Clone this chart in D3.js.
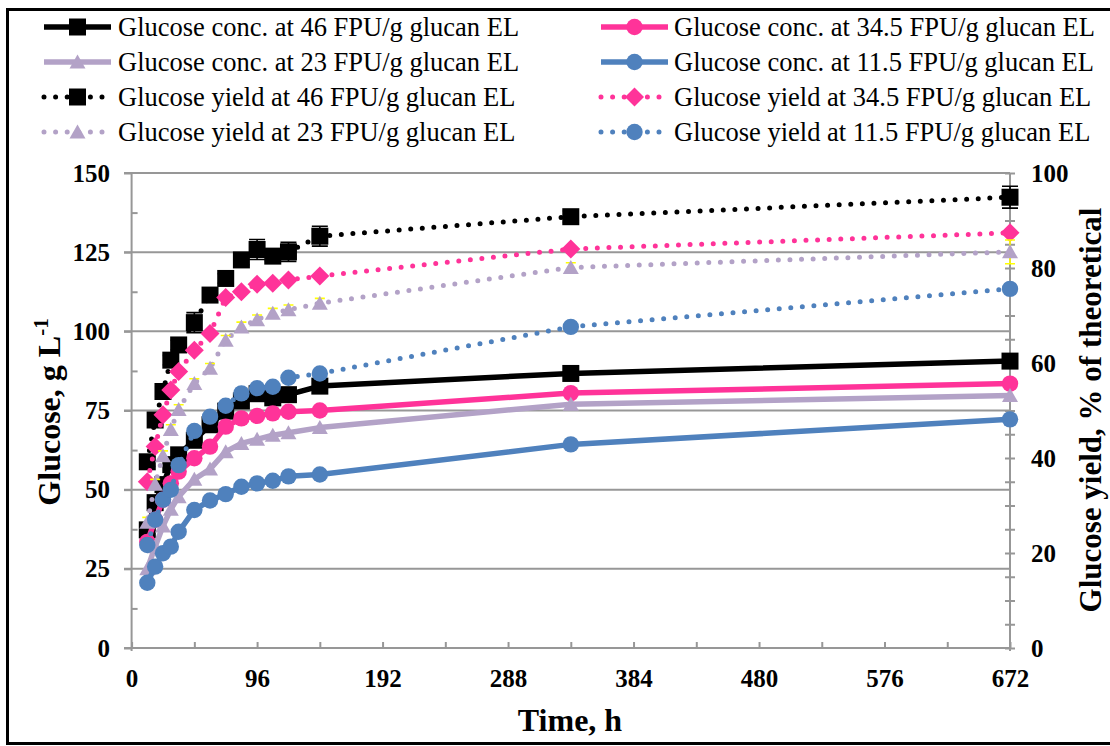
<!DOCTYPE html>
<html>
<head>
<meta charset="utf-8">
<script src="https://cdn.jsdelivr.net/npm/d3@7"></script>
<style>
  html, body { margin: 0; padding: 0; background: #fff; }
  svg { display: block; }
  text { font-family: "Liberation Serif", "Times New Roman", serif; fill: #000; }
</style>
</head>
<body>
<svg id="chart" width="1110" height="746"></svg>
<script>
// Sampling times, h
const times = [12, 18, 24, 30, 36, 48, 60, 72, 84, 96, 108, 120, 144, 336, 672];

// Glucose concentration, g/L
const conc46  = [37.3, 45.9, 51.6, 57.9, 61.0, 65.6, 70.5, 74.8, 78.0, 80.3, 79.0, 80.0, 82.7, 86.7, 90.6];
const conc345 = [33.5, 40.5, 46.8, 52.0, 55.7, 59.9, 63.6, 69.9, 72.5, 73.3, 74.1, 74.6, 75.0, 80.5, 83.5];
const conc23  = [25.0, 32.0, 38.5, 43.8, 47.8, 53.3, 56.5, 62.0, 64.6, 65.9, 67.2, 68.0, 69.6, 77.0, 79.7];
const conc115 = [20.6, 25.7, 29.9, 32.0, 36.7, 43.6, 46.6, 48.6, 50.9, 52.0, 52.8, 54.2, 54.8, 64.3, 72.2];

// Glucose yield, % of theoretical
const yield46  = [39.2, 48.0, 54.0, 60.6, 63.8, 68.5, 74.3, 77.8, 81.7, 83.9, 82.5, 83.4, 86.7, 90.8, 94.9];
const yield345 = [35.0, 42.4, 49.1, 54.3, 58.2, 62.7, 66.2, 73.8, 75.0, 76.6, 76.8, 77.5, 78.3, 84.0, 87.4];
const yield23  = [26.5, 34.5, 40.5, 46.0, 50.2, 55.7, 58.9, 64.8, 67.6, 69.1, 70.5, 71.2, 72.6, 80.1, 83.4];
const yield115 = [21.7, 27.0, 31.2, 33.3, 38.5, 45.7, 48.7, 51.0, 53.6, 54.7, 55.0, 56.9, 57.8, 67.6, 75.6];

// Standard deviations of the yield series
const yield46Err = [1.0, 1.0, 1.0, 1.0, 1.0, 2.1, 1.0, 1.0, 1.0, 2.1, 1.0, 2.0, 2.1, 1.2, 2.3];
const yield23Err = [1.0, 1.0, 1.0, 1.0, 1.0, 1.0, 1.0, 1.0, 1.0, 1.0, 1.0, 1.0, 1.0, 1.0, 2.5];

// Axis ticks
const xTicks = [0, 48, 96, 144, 192, 240, 288, 336, 384, 432, 480, 528, 576, 624, 672];
const xLabelStep = 96;
const leftTicks = [0, 25, 50, 75, 100, 125, 150];
const leftMinorTicks = [12.5, 37.5, 62.5, 87.5, 112.5, 137.5];
const rightTicks = d3.range(0, 101, 5);
const rightLabelStep = 20;

const legendLabels = [
  "Glucose conc. at 46 FPU/g glucan EL",
  "Glucose conc. at 34.5 FPU/g glucan EL",
  "Glucose conc. at 23 FPU/g glucan EL",
  "Glucose conc. at 11.5 FPU/g glucan EL",
  "Glucose yield at 46 FPU/g glucan EL",
  "Glucose yield at 34.5 FPU/g glucan EL",
  "Glucose yield at 23 FPU/g glucan EL",
  "Glucose yield at 11.5 FPU/g glucan EL"
];

const BLACK = "#000000", PINK = "#FF3399", LAV = "#B3A2C7", BLUE = "#4F81BD", GRID = "#979797";

const series = [
  { values: conc46,   axis: "L", color: BLACK, shape: "square",   dotted: false },
  { values: conc345,  axis: "L", color: PINK,  shape: "circle",   dotted: false },
  { values: conc23,   axis: "L", color: LAV,   shape: "triangle", dotted: false },
  { values: conc115,  axis: "L", color: BLUE,  shape: "circle",   dotted: false },
  { values: yield46,  axis: "R", color: BLACK, shape: "square",   dotted: true, err: yield46Err, errColor: BLACK, cap: 16 },
  { values: yield345, axis: "R", color: PINK,  shape: "diamond",  dotted: true },
  { values: yield23,  axis: "R", color: LAV,   shape: "triangle", dotted: true, err: yield23Err, errColor: "#FFFF00", cap: 10 },
  { values: yield115, axis: "R", color: BLUE,  shape: "circle",   dotted: true }
];
series.forEach((s, i) => s.label = legendLabels[i]);

const svg = d3.select("#chart");
svg.append("rect").attr("width", 1110).attr("height", 746).attr("fill", "#fff");

const x  = d3.scaleLinear().domain([0, 672]).range([131.6, 1010]);
const yL = d3.scaleLinear().domain([0, 150]).range([648, 173]);
const yR = d3.scaleLinear().domain([0, 100]).range([648, 173]);

// Horizontal gridlines
svg.append("g").selectAll("line").data(leftTicks.filter(v => v > 0)).join("line")
  .attr("x1", 124).attr("x2", 1010)
  .attr("y1", d => yL(d)).attr("y2", d => yL(d))
  .attr("stroke", GRID).attr("stroke-width", 2);

function styleAxis(g) {
  g.selectAll("path.domain").attr("stroke", GRID).attr("stroke-width", 2);
  g.selectAll(".tick line").attr("stroke", GRID).attr("stroke-width", 2);
  g.selectAll("text").attr("font-family", "Liberation Serif, Times New Roman, serif")
    .attr("font-weight", "bold").attr("font-size", 25).attr("fill", "#000");
}

// Bottom axis
const gx = svg.append("g").attr("transform", "translate(0,648)")
  .call(d3.axisBottom(x).tickValues(xTicks).tickSize(-6).tickSizeOuter(0).tickPadding(21)
    .tickFormat(d => d % xLabelStep === 0 ? d : ""));
styleAxis(gx);
gx.select("path.domain").attr("d", "M124,0H1010");

// Left axis
const gyl = svg.append("g").attr("transform", "translate(131.6,0)")
  .call(d3.axisLeft(yL).tickValues(leftTicks).tickSize(7.6).tickSizeOuter(0).tickPadding(14));
styleAxis(gyl);
gyl.select("path.domain").attr("d", "M0,173V651");
svg.append("g").attr("transform", "translate(131.6,0)")
  .call(d3.axisLeft(yL).tickValues(leftMinorTicks).tickSize(-6).tickFormat(""))
  .call(g => { g.select("path.domain").remove(); styleAxis(g); });

// Right axis with crossing ticks
const gyr = svg.append("g").attr("transform", "translate(1010,0)")
  .call(d3.axisRight(yR).tickValues(rightTicks).tickSize(5).tickSizeOuter(0).tickPadding(16)
    .tickFormat(d => d % rightLabelStep === 0 ? d : ""));
styleAxis(gyr);
gyr.selectAll(".tick line").attr("x1", -5);
gyr.select("path.domain").attr("d", "M0,173V651");

// Axis titles
svg.append("text").attr("x", 570).attr("y", 731).attr("text-anchor", "middle")
  .attr("font-weight", "bold").attr("font-size", 32).text("Time, h");

const tl = svg.append("text").attr("transform", "translate(60,412) rotate(-90)")
  .attr("text-anchor", "middle").attr("font-weight", "bold").attr("font-size", 32);
tl.append("tspan").text("Glucose, g L");
tl.append("tspan").attr("dy", -12).attr("font-size", 21).text("-1");

svg.append("text").attr("transform", "translate(1101,410) rotate(-90)")
  .attr("text-anchor", "middle").attr("font-weight", "bold").attr("font-size", 31)
  .text("Glucose yield, % of theoretical");

// Marker shapes
function markerPath(shape) {
  switch (shape) {
    case "square":   return "M-8.5,-8.5H8.5V8.5H-8.5Z";
    case "diamond":  return "M0,-9.5L9.5,0L0,9.5L-9.5,0Z";
    case "triangle": return "M0,-7.5L8,6.5L-8,6.5Z";
    default:         return null;
  }
}
function drawMarker(g, shape, cx, cy, color) {
  if (shape === "circle") {
    g.append("circle").attr("cx", cx).attr("cy", cy).attr("r", 8.2).attr("fill", color);
  } else {
    g.append("path").attr("d", markerPath(shape))
      .attr("transform", `translate(${cx},${cy})`).attr("fill", color);
  }
}
function styleLine(sel, s) {
  sel.attr("fill", "none").attr("stroke", s.color).attr("stroke-linejoin", "round");
  if (s.dotted) {
    sel.attr("stroke-width", 5).attr("stroke-dasharray", "0 11.6").attr("stroke-linecap", "round");
  } else {
    sel.attr("stroke-width", 5.5);
  }
}

// Series
const plot = svg.append("g");
series.forEach(s => {
  const y = s.axis === "L" ? yL : yR;
  const pts = times.map((t, i) => [t, s.values[i]]);
  const g = plot.append("g");
  g.append("path").datum(pts)
    .attr("d", d3.line().x(d => x(d[0])).y(d => y(d[1])))
    .call(sel => styleLine(sel, s));
  if (s.err) {
    pts.forEach((p, i) => {
      const cx = x(p[0]), e = s.err[i];
      const y1 = y(p[1] - e), y2 = y(p[1] + e);
      g.append("path")
        .attr("d", `M${cx},${y1}V${y2}M${cx - s.cap / 2},${y1}H${cx + s.cap / 2}M${cx - s.cap / 2},${y2}H${cx + s.cap / 2}`)
        .attr("stroke", s.errColor).attr("stroke-width", 1.6).attr("fill", "none");
    });
  }
  pts.forEach(p => drawMarker(g, s.shape, x(p[0]), y(p[1]), s.color));
});

// Legend
const legend = svg.append("g");
series.forEach((s, i) => {
  const col = i % 2, row = Math.floor(i / 2);
  const x0 = col === 0 ? 42 : 599, cy = 27 + row * 35;
  const g = legend.append("g");
  g.append("path").attr("d", `M${x0 + 2},${cy}H${x0 + 69}`).call(sel => styleLine(sel, s));
  drawMarker(g, s.shape, x0 + 35.5, cy, s.color);
  g.append("text").attr("x", col === 0 ? 118 : 674).attr("y", cy + 9)
    .attr("font-size", 26.5).text(s.label);
});

// Outer frame
svg.append("rect").attr("x", 7.5).attr("y", 9.5).attr("width", 1110).attr("height", 734)
  .attr("fill", "none").attr("stroke", "#000").attr("stroke-width", 3);
</script>
</body>
</html>
